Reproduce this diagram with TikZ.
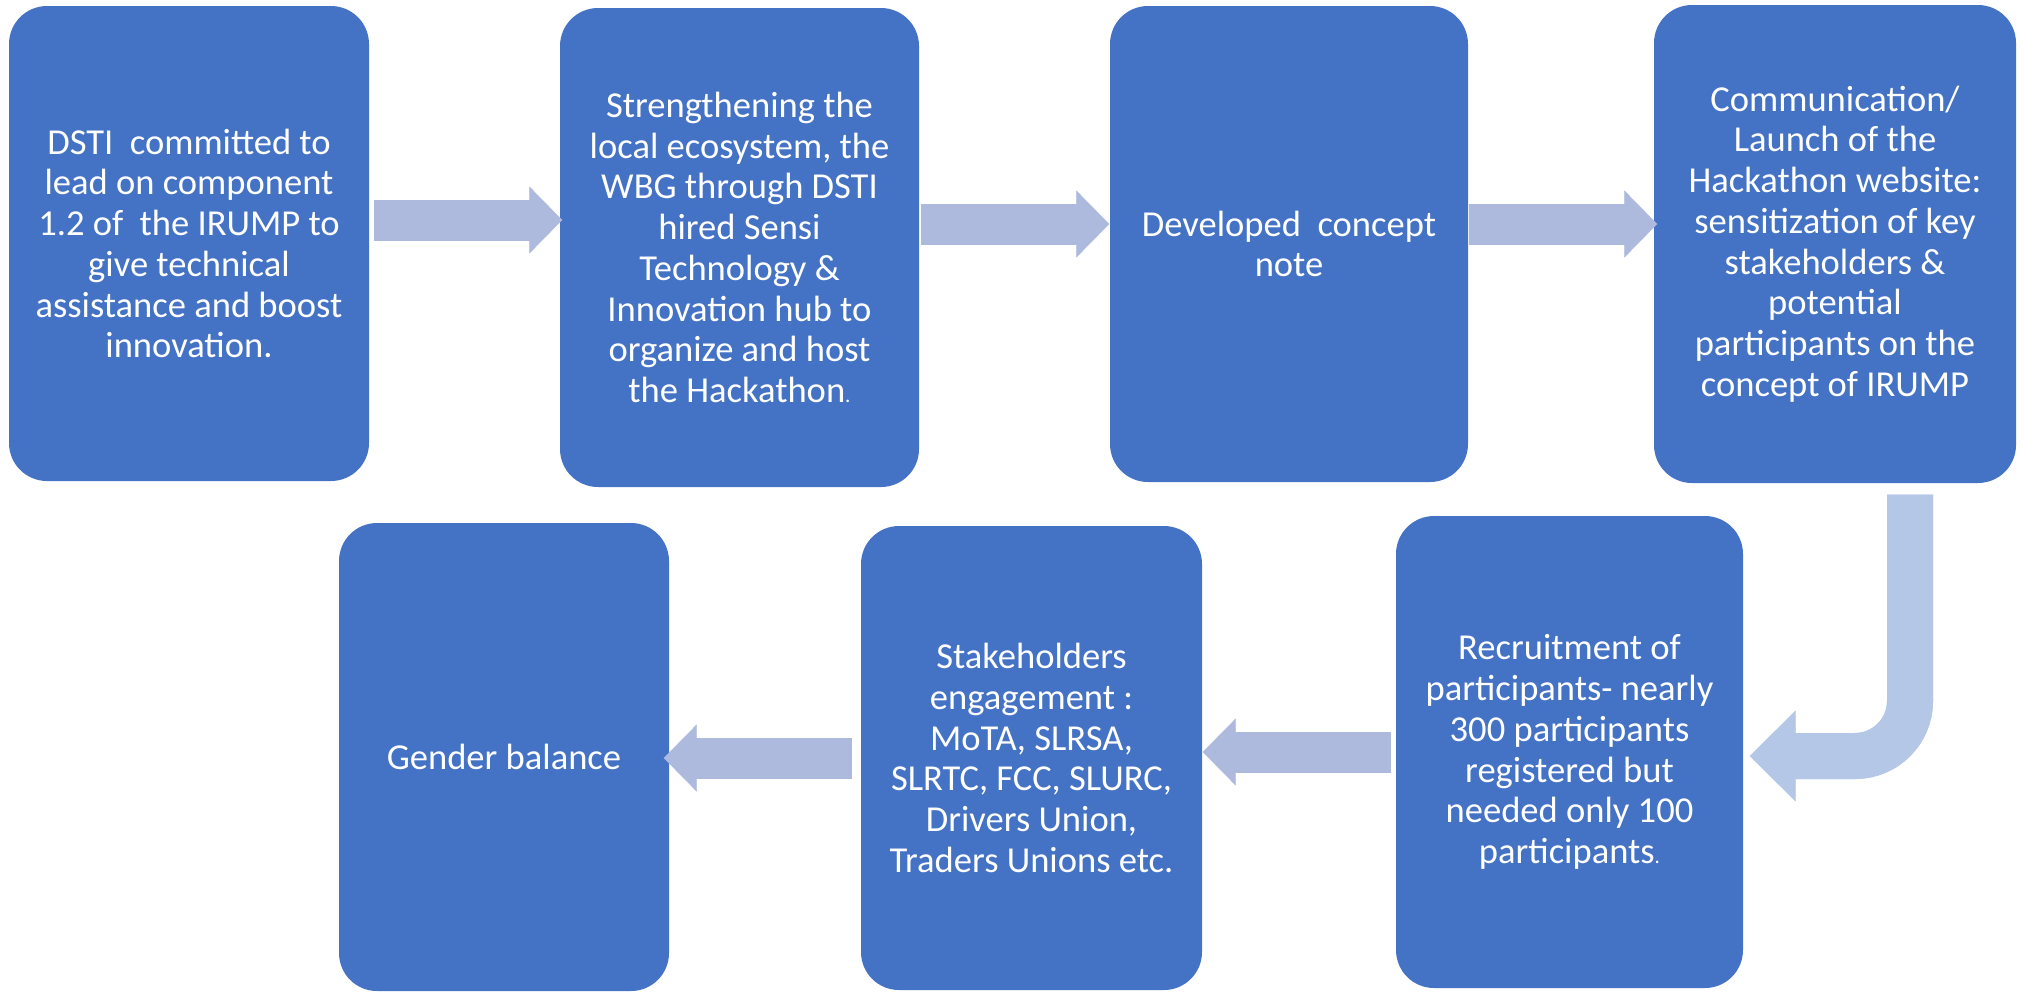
\documentclass[tikz,border=0pt]{standalone}
\usepackage{fontspec}
\setmainfont{Carlito}
\usetikzlibrary{arrows.meta}
\usetikzlibrary{calc}
\definecolor{boxblue}{HTML}{4472C4}
\definecolor{arrowblue}{HTML}{AEBADD}
\definecolor{bendblue}{HTML}{B4C7E7}
\tikzset{
  stepnode/.style={fill=boxblue, rounded corners=3.8mm, text=white, align=center,
    inner sep=0pt, font=\fontsize{10.4}{11.6}\selectfont},
  flow/.style={draw=arrowblue, line width=4.1mm,
    -{Triangle[length=3.3mm,width=6.7mm,line width=0.1pt]},
    postaction={draw=arrowblue, line width=4.1mm, -, shorten >=2.4mm}},
  bendflow/.style={draw=bendblue, line width=4.6mm, rounded corners=5.5mm,
    -{Triangle[length=4.6mm,width=9.1mm,line width=0.1pt]},
    postaction={draw=bendblue, line width=4.6mm, -, shorten >=3.6mm}}
}
\newcommand{\smalldot}{{\fontsize{6}{6}\selectfont.}}

\begin{document}
\begin{tikzpicture}[x=0.1mm,y=-0.1mm]
  \useasboundingbox (0,0) rectangle (2024,997);

  % top row
  \node[stepnode, minimum width=36mm, minimum height=47.5mm] (dsti) at (189,243.5)
    {DSTI~ committed to\\lead on component\\1.2 of~ the IRUMP to\\give technical\\assistance and boost\\innovation.};
  \node[stepnode, minimum width=35.9mm, minimum height=47.9mm] (hire) at (739.5,247.5)
    {Strengthening the\\local ecosystem, the\\WBG through DSTI\\hired Sensi\\Technology \&\\Innovation hub to\\organize and host\\the Hackathon\smalldot};
  \node[stepnode, minimum width=35.8mm, minimum height=47.6mm] (note) at (1289,244)
    {Developed~ concept\\note};
  \node[stepnode, minimum width=36.2mm, minimum height=47.8mm] (launch) at (1835,244)
    {Communication/\\Launch of the\\Hackathon website:\\sensitization of key\\stakeholders \&\\potential\\participants on the\\concept of IRUMP};

  % bottom row
  \node[stepnode, minimum width=34.7mm, minimum height=47.2mm] (recruit) at (1569.5,752)
    {Recruitment of\\participants- nearly\\300 participants\\registered but\\needed only 100\\participants\smalldot};
  \node[stepnode, minimum width=34.1mm, minimum height=46.4mm] (engage) at (1031.5,758)
    {Stakeholders\\engagement :\\MoTA, SLRSA,\\SLRTC, FCC, SLURC,\\Drivers Union,\\Traders Unions etc.};
  \node[stepnode, minimum width=33mm, minimum height=46.8mm] (gender) at (504,757)
    {Gender balance};

  % arrows
  \draw[flow] ([xshift=0.4mm,yshift=2.35mm]dsti.east) coordinate (a1) -- ([xshift=0.3mm]a1 -| hire.west);
  \draw[flow] ([xshift=0.1mm,yshift=2.35mm]hire.east) coordinate (a2) -- (a2 -| note.west);
  \draw[flow] ([yshift=2.0mm]note.east) coordinate (a3) -- ([xshift=0.4mm]a3 -| launch.west);
  \draw[bendflow] ([xshift=7.5mm,yshift=-1.1mm]launch.south) |- ([xshift=0.6mm,yshift=-0.4mm]recruit.east);
  \draw[flow] ([xshift=-0.4mm]recruit.west) -- (recruit.west -| engage.east);
  \draw[flow] ([xshift=-0.8mm]engage.west) -- ([xshift=-0.6mm]engage.west -| gender.east);
\end{tikzpicture}
\end{document}
